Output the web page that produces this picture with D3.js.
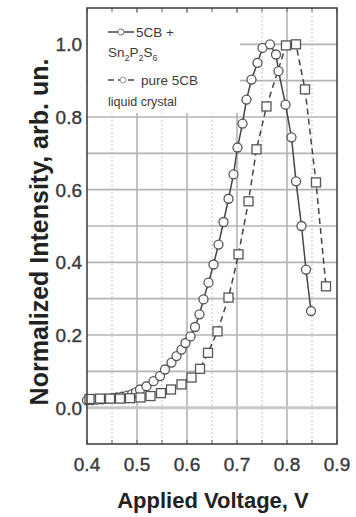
<!DOCTYPE html>
<html lang="en">
<head>
	<meta charset="utf-8">
	<title>Normalized intensity vs applied voltage</title>
	<script type="text/javascript" src="https://cdn.jsdelivr.net/npm/d3@7"></script>
	<style type="text/css">
		body { margin: 0; background: #fff; }
		text { font-family: "Liberation Sans", Arial, sans-serif; }
	</style>
</head>
<body>
	<script type="text/javascript">
		// 5CB + Sn2P2S6 (circles, solid line)
		var circleVoltage = [0.400, 0.410, 0.420, 0.430, 0.440, 0.450, 0.460, 0.470, 0.480, 0.490,
			0.498, 0.506, 0.519, 0.533, 0.546, 0.556, 0.569, 0.579, 0.589, 0.597,
			0.607, 0.616, 0.625, 0.633, 0.643, 0.653, 0.663, 0.673, 0.683, 0.693,
			0.701, 0.711, 0.719, 0.729, 0.741, 0.751, 0.766, 0.778, 0.783, 0.797,
			0.809, 0.818, 0.829, 0.838, 0.848];
		var circleIntensity = [0.020, 0.021, 0.022, 0.023, 0.024, 0.026, 0.028, 0.030, 0.033, 0.037,
			0.043, 0.050, 0.059, 0.073, 0.087, 0.105, 0.124, 0.142, 0.160, 0.178,
			0.196, 0.222, 0.257, 0.298, 0.344, 0.394, 0.449, 0.511, 0.575, 0.642,
			0.716, 0.782, 0.848, 0.903, 0.949, 0.990, 1.000, 0.972, 0.926, 0.834,
			0.744, 0.623, 0.500, 0.380, 0.266];

		// pure 5CB liquid crystal (squares, dashed line)
		var squareVoltage = [0.405, 0.426, 0.446, 0.466, 0.486, 0.507, 0.527, 0.548, 0.568, 0.589,
			0.609, 0.626, 0.642, 0.661, 0.683, 0.703, 0.723, 0.739, 0.759, 0.798,
			0.818, 0.836, 0.858, 0.878];
		var squareIntensity = [0.024, 0.025, 0.025, 0.025, 0.026, 0.028, 0.032, 0.040, 0.050, 0.064,
			0.083, 0.107, 0.151, 0.210, 0.303, 0.422, 0.568, 0.711, 0.829, 0.997,
			1.000, 0.876, 0.620, 0.334];

		var xTicks = [0.4, 0.5, 0.6, 0.7, 0.8, 0.9];
		var yTicks = [0.0, 0.2, 0.4, 0.6, 0.8, 1.0];

		var w = 356;
		var h = 517;
		var plotLeft = 87, plotRight = 337, plotTop = 8, plotBottom = 444;

		var xScale = d3.scaleLinear().domain([0.4, 0.9]).range([plotLeft, plotRight]);
		var yScale = d3.scaleLinear().domain([-0.1, 1.1]).range([plotBottom, plotTop]);

		var svg = d3.select("body")
			.append("svg")
			.attr("width", w)
			.attr("height", h);

		// grid
		var vGrid = d3.range(0.45, 0.9, 0.05);
		svg.selectAll("line.vgrid")
			.data(vGrid)
			.enter()
			.append("line")
			.attr("class", "vgrid")
			.attr("x1", function (d) { return xScale(d); })
			.attr("x2", function (d) { return xScale(d); })
			.attr("y1", plotTop)
			.attr("y2", plotBottom)
			.attr("stroke", function (d, i) { return i % 2 == 1 ? "#a8a8a8" : "#c4c4c4"; })
			.attr("stroke-width", function (d, i) { return i % 2 == 1 ? 1.4 : 1; })
			.attr("stroke-dasharray", function (d, i) { return i % 2 == 1 ? null : "2,2"; });

		var hGrid = d3.range(0, 11).map(function (i) { return i / 10; });
		svg.selectAll("line.hgrid")
			.data(hGrid)
			.enter()
			.append("line")
			.attr("class", "hgrid")
			.attr("x1", plotLeft)
			.attr("x2", plotRight)
			.attr("y1", function (d) { return yScale(d); })
			.attr("y2", function (d) { return yScale(d); })
			.attr("stroke", function (d) { return d == 0 ? "#c8c8c8" : "#b4b4b4"; })
			.attr("stroke-width", function (d) { return d == 0 ? 3 : 1.6; });

		// legend backdrop hides the grid
		svg.append("rect")
			.attr("x", plotLeft + 1)
			.attr("y", plotTop + 5)
			.attr("width", 152)
			.attr("height", 100)
			.attr("fill", "#fff");

		// inner ticks
		var tickX = d3.range(0.4, 0.91, 0.05);
		svg.selectAll("line.tt")
			.data(tickX)
			.enter()
			.append("line")
			.attr("x1", function (d) { return xScale(d); })
			.attr("x2", function (d) { return xScale(d); })
			.attr("y1", plotTop)
			.attr("y2", plotTop + 4)
			.attr("stroke", "#666");
		svg.selectAll("line.bt")
			.data(tickX)
			.enter()
			.append("line")
			.attr("x1", function (d) { return xScale(d); })
			.attr("x2", function (d) { return xScale(d); })
			.attr("y1", plotBottom)
			.attr("y2", plotBottom - 4)
			.attr("stroke", "#666");

		// series lines
		var line = d3.line()
			.x(function (d) { return xScale(d[0]); })
			.y(function (d) { return yScale(d[1]); });

		var circles = d3.zip(circleVoltage, circleIntensity);
		var squares = d3.zip(squareVoltage, squareIntensity);

		svg.append("path")
			.datum(circles)
			.attr("d", line)
			.attr("fill", "none")
			.attr("stroke", "#444")
			.attr("stroke-width", 1.5);

		svg.append("path")
			.datum(squares)
			.attr("d", line)
			.attr("fill", "none")
			.attr("stroke", "#444")
			.attr("stroke-width", 1.5)
			.attr("stroke-dasharray", "6,4");

		svg.selectAll("circle.pt")
			.data(circles)
			.enter()
			.append("circle")
			.attr("cx", function (d) { return xScale(d[0]); })
			.attr("cy", function (d) { return yScale(d[1]); })
			.attr("r", 4.5)
			.attr("fill", "#fff")
			.attr("stroke", "#555")
			.attr("stroke-width", 1.3);

		svg.selectAll("rect.pt")
			.data(squares)
			.enter()
			.append("rect")
			.attr("x", function (d) { return xScale(d[0]) - 4.5; })
			.attr("y", function (d) { return yScale(d[1]) - 4.5; })
			.attr("width", 9)
			.attr("height", 9)
			.attr("fill", "#fff")
			.attr("stroke", "#555")
			.attr("stroke-width", 1.3);

		// frame
		svg.append("rect")
			.attr("x", plotLeft)
			.attr("y", plotTop)
			.attr("width", plotRight - plotLeft)
			.attr("height", plotBottom - plotTop)
			.attr("fill", "none")
			.attr("stroke", "#444")
			.attr("stroke-width", 1.6);

		// tick labels
		svg.selectAll("text.xt")
			.data(xTicks)
			.enter()
			.append("text")
			.attr("x", function (d) { return xScale(d); })
			.attr("y", 471)
			.attr("text-anchor", "middle")
			.attr("font-size", "19px")
			.attr("fill", "#3a3a3a")
			.attr("stroke", "#3a3a3a")
			.attr("stroke-width", 0.4)
			.text(function (d) { return d.toFixed(1); });

		svg.selectAll("text.yt")
			.data(yTicks)
			.enter()
			.append("text")
			.attr("x", 82)
			.attr("y", function (d) { return yScale(d) + 7; })
			.attr("text-anchor", "end")
			.attr("font-size", "19px")
			.attr("fill", "#3a3a3a")
			.attr("stroke", "#3a3a3a")
			.attr("stroke-width", 0.4)
			.text(function (d) { return d.toFixed(1); });

		// axis titles
		svg.append("text")
			.attr("x", 213)
			.attr("y", 508)
			.attr("text-anchor", "middle")
			.attr("font-size", "22px")
			.attr("font-weight", "bold")
			.attr("fill", "#222")
			.text("Applied Voltage, V");

		svg.append("text")
			.attr("transform", "translate(48,232) rotate(-90)")
			.attr("text-anchor", "middle")
			.attr("font-size", "25px")
			.attr("font-weight", "bold")
			.attr("fill", "#222")
			.text("Normalized Intensity, arb. un.");

		// legend
		var lg = svg.append("g").attr("fill", "#3a3a3a").attr("font-size", "13.5px");
		lg.append("line").attr("x1", 108).attr("x2", 134).attr("y1", 32).attr("y2", 32)
			.attr("stroke", "#444").attr("stroke-width", 1.5);
		lg.append("circle").attr("cx", 121).attr("cy", 32).attr("r", 3)
			.attr("fill", "#fff").attr("stroke", "#777");
		lg.append("text").attr("x", 136).attr("y", 37).text("5CB +");

		var sub = lg.append("text").attr("x", 108).attr("y", 57);
		sub.append("tspan").text("Sn");
		sub.append("tspan").attr("dy", 4).attr("font-size", "9px").text("2");
		sub.append("tspan").attr("dy", -4).text("P");
		sub.append("tspan").attr("dy", 4).attr("font-size", "9px").text("2");
		sub.append("tspan").attr("dy", -4).text("S");
		sub.append("tspan").attr("dy", 4).attr("font-size", "9px").text("6");

		lg.append("line").attr("x1", 108).attr("x2", 137).attr("y1", 80).attr("y2", 80)
			.attr("stroke", "#444").attr("stroke-width", 1.5).attr("stroke-dasharray", "6,4");
		lg.append("circle").attr("cx", 123).attr("cy", 80).attr("r", 3)
			.attr("fill", "#fff").attr("stroke", "#999");
		lg.append("text").attr("x", 141).attr("y", 85).text("pure 5CB");
		lg.append("text").attr("x", 108).attr("y", 106).attr("font-size", "12.5px").text("liquid crystal");
	</script>
</body>
</html>
